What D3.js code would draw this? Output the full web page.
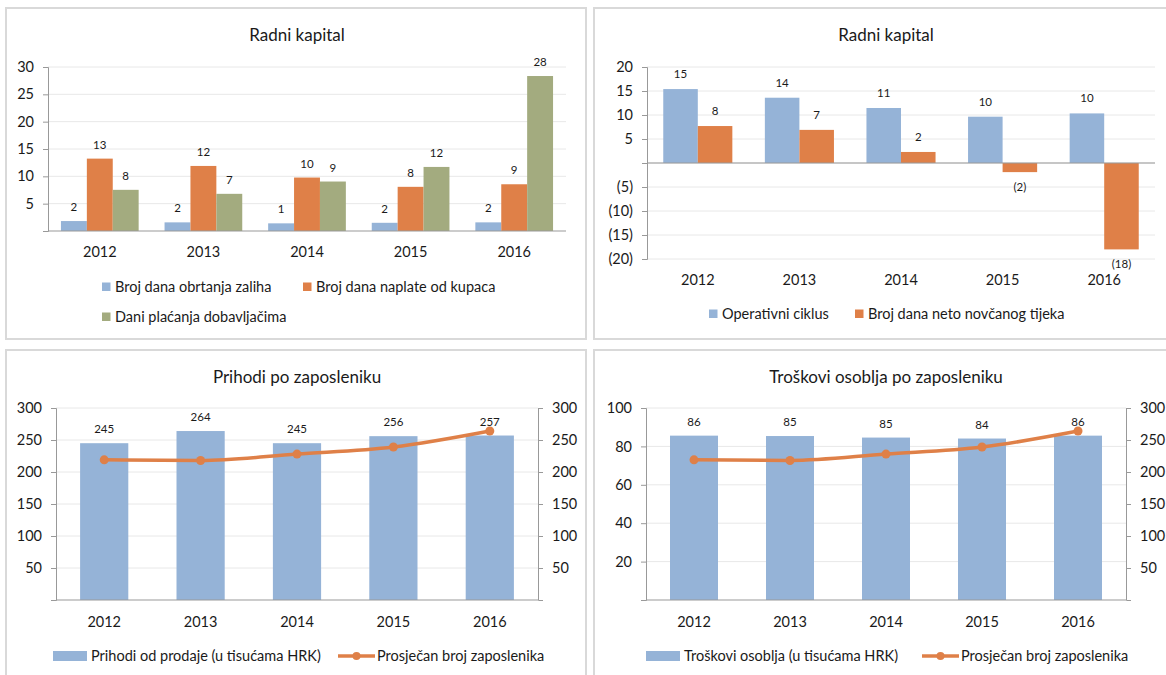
<!DOCTYPE html>
<html><head><meta charset="utf-8">
<script src="https://cdnjs.cloudflare.com/ajax/libs/d3/7.8.5/d3.min.js"></script>
<style>
body{margin:0;background:#fff;}
svg text{font-family:Lato,"Noto Sans",sans-serif;fill:#1a1a1a;}
</style></head><body>
<svg id="c" width="1166" height="675"></svg>
<script>
// ---- data ----
const years = ["2012","2013","2014","2015","2016"];
// Panel 1: Radni kapital
const p1Series = ["Broj dana obrtanja zaliha","Broj dana naplate od kupaca","Dani plaćanja dobavljačima"];
const zalihe = [1.82, 1.58, 1.40, 1.5, 1.58];
const kupci = [13.24, 11.9, 9.78, 8.08, 8.55];
const dobavljaci = [7.53, 6.8, 9.05, 11.72, 28.35];
const p1Ticks = [5,10,15,20,25,30];
// Panel 2: Radni kapital
const p2Series = ["Operativni ciklus","Broj dana neto novčanog tijeka"];
const operativni = [15.4, 13.6, 11.46, 9.65, 10.33];
const netoTijek = [7.7, 6.9, 2.3, -1.9, -18.0];
const p2Ticks = [-20,-15,-10,-5,0,5,10,15,20];
// Panel 3: Prihodi po zaposleniku
const p3Series = ["Prihodi od prodaje (u tisućama HRK)","Prosječan broj zaposlenika"];
const prihodi = [245, 264, 245, 256, 257];
const zaposlenici = [219, 218, 228, 239, 264];
const p3Ticks = [50,100,150,200,250,300];
// Panel 4: Troškovi osoblja po zaposleniku
const p4Series = ["Troškovi osoblja (u tisućama HRK)","Prosječan broj zaposlenika"];
const troskovi = [85.6, 85.4, 84.6, 84.1, 85.6];
const p4TicksL = [20,40,60,80,100];
const p4TicksR = [50,100,150,200,250,300];

const BLUE="#95b3d7", ORANGE="#df8048", GREEN="#a3ab7f", AXIS="#999999", GRID="#e8e8e8";
const svg = d3.select("#c");
const fmtInt = v => { const r = Math.round(Math.abs(v)); return v < 0 ? "(" + r + ")" : String(r); };
const fmtTick = v => v === 0 ? "" : (v < 0 ? "(" + Math.abs(v) + ")" : String(v));
const FS = 14.5;

// panel borders
[[6,8,580,331],[594,8,600,331],[6,350,580,340],[594,350,600,340]].forEach(r=>{
  svg.append("rect").attr("x",r[0]).attr("y",r[1]).attr("width",r[2]).attr("height",r[3])
    .attr("fill","none").attr("stroke","#d9d9d9").attr("stroke-width",2);
});

function title(x,y,t){ svg.append("text").attr("x",x).attr("y",y).attr("text-anchor","middle").attr("font-size",17).text(t); }

function yAxisLeft(g, y, ticks, x0, x1, fmt){
  g.selectAll(null).data(ticks).join("line").attr("x1",x0).attr("x2",x1)
    .attr("y1",d=>y(d)).attr("y2",d=>y(d)).attr("stroke",GRID).attr("stroke-width",1);
  const ax = g.append("g").attr("transform",`translate(${x0},0)`)
    .call(d3.axisLeft(y).tickValues(ticks).tickSize(5).tickPadding(9).tickFormat(fmt));
  ax.select(".domain").attr("stroke",AXIS);
  ax.selectAll(".tick line").attr("stroke",AXIS);
  ax.selectAll("text").attr("font-size",FS).attr("font-family","Lato").attr("fill","#1a1a1a");
  return ax;
}
function yAxisRight(g, y, ticks, x, fmt){
  const ax = g.append("g").attr("transform",`translate(${x},0)`)
    .call(d3.axisRight(y).tickValues(ticks).tickSize(5).tickPadding(9).tickFormat(fmt));
  ax.select(".domain").attr("stroke",AXIS);
  ax.selectAll(".tick line").attr("stroke",AXIS);
  ax.selectAll("text").attr("font-size",FS).attr("font-family","Lato").attr("fill","#1a1a1a");
}
function yearLabels(g, x, yPos){
  g.selectAll(null).data(years).join("text").attr("x",d=>x(d)+x.bandwidth()/2).attr("y",yPos)
    .attr("text-anchor","middle").attr("font-size",FS).text(d=>d);
}
function legSquare(x,y,color,t){
  svg.append("rect").attr("x",x).attr("y",y-4.5).attr("width",8.5).attr("height",8.5).attr("fill",color);
  svg.append("text").attr("x",x+13).attr("y",y+5).attr("font-size",FS).text(t);
}
function legRect(x,y,color,t){
  svg.append("rect").attr("x",x).attr("y",y-5).attr("width",34).attr("height",10).attr("fill",color);
  svg.append("text").attr("x",x+38).attr("y",y+5).attr("font-size",FS).text(t);
}
function legLine(x,y,t){
  svg.append("line").attr("x1",x).attr("x2",x+37).attr("y1",y).attr("y2",y).attr("stroke",ORANGE).attr("stroke-width",3.5);
  svg.append("circle").attr("cx",x+18.5).attr("cy",y).attr("r",4).attr("fill",ORANGE);
  svg.append("text").attr("x",x+39).attr("y",y+5).attr("font-size",FS).text(t);
}

// ---------- Panel 1 ----------
{
  const g = svg.append("g");
  title(297,41,"Radni kapital");
  const x0 = d3.scaleBand().domain(years).range([48,566]).paddingInner(0.25).paddingOuter(0.125);
  const x1 = d3.scaleBand().domain([0,1,2]).range([0,x0.bandwidth()]);
  const y = d3.scaleLinear().domain([0,30]).range([231,67]);
  yAxisLeft(g,y,p1Ticks,48,566,d3.format("d"));
  const rows = years.map((yr,i)=>({yr, vals:[zalihe[i],kupci[i],dobavljaci[i]]}));
  const cols = [BLUE,ORANGE,GREEN];
  const grp = g.selectAll(null).data(rows).join("g").attr("transform",d=>`translate(${x0(d.yr)},0)`);
  grp.selectAll("rect").data(d=>d.vals).join("rect")
    .attr("x",(d,j)=>x1(j)).attr("width",x1.bandwidth()).attr("y",d=>y(d)).attr("height",d=>y(0)-y(d))
    .attr("fill",(d,j)=>cols[j]);
  grp.selectAll("text").data(d=>d.vals).join("text")
    .attr("x",(d,j)=>x1(j)+x1.bandwidth()/2).attr("y",d=>y(d)-10).attr("text-anchor","middle")
    .attr("font-size",11.5).text(fmtInt);
  g.append("line").attr("x1",48).attr("x2",566).attr("y1",y(0)).attr("y2",y(0)).attr("stroke",AXIS);
  yearLabels(g,x0,257);
  legSquare(102,287,BLUE,p1Series[0]);
  legSquare(303,287,ORANGE,p1Series[1]);
  legSquare(102,317,GREEN,p1Series[2]);
}

// ---------- Panel 2 ----------
{
  const g = svg.append("g");
  title(886,41,"Radni kapital");
  const x0 = d3.scaleBand().domain(years).range([647,1155]).paddingInner(0.32).paddingOuter(0.16);
  const x1 = d3.scaleBand().domain([0,1]).range([0,x0.bandwidth()]);
  const y = d3.scaleLinear().domain([-20,20]).range([259,67]);
  yAxisLeft(g,y,p2Ticks,647,1155,fmtTick);
  const rows = years.map((yr,i)=>({yr, vals:[operativni[i],netoTijek[i]]}));
  const cols = [BLUE,ORANGE];
  const grp = g.selectAll(null).data(rows).join("g").attr("transform",d=>`translate(${x0(d.yr)},0)`);
  grp.selectAll("rect").data(d=>d.vals).join("rect")
    .attr("x",(d,j)=>x1(j)).attr("width",x1.bandwidth()).attr("y",d=>y(Math.max(0,d))).attr("height",d=>Math.abs(y(d)-y(0)))
    .attr("fill",(d,j)=>cols[j]);
  grp.selectAll("text").data(d=>d.vals).join("text")
    .attr("x",(d,j)=>x1(j)+x1.bandwidth()/2).attr("y",d=>d>=0 ? y(d)-11 : y(d)+19).attr("text-anchor","middle")
    .attr("font-size",11.5).text(fmtInt);
  g.append("line").attr("x1",647).attr("x2",1155).attr("y1",y(0)).attr("y2",y(0)).attr("stroke",AXIS);
  yearLabels(g,x0,285);
  legSquare(709,314,BLUE,p2Series[0]);
  legSquare(855,314,ORANGE,p2Series[1]);
}

// ---------- bar + line panels ----------
function barLine(opts){
  const g = svg.append("g");
  title(opts.cx,383,opts.title);
  const x = d3.scaleBand().domain(years).range([opts.x0,opts.x1]).paddingInner(0.5).paddingOuter(0.25);
  const y = d3.scaleLinear().domain([0,opts.max]).range([600,408]);
  const y2 = d3.scaleLinear().domain([0,300]).range([600,408]);
  yAxisLeft(g,y,opts.ticksL,opts.x0,opts.x1,d3.format("d"));
  yAxisRight(g,y2,opts.ticksR,opts.x1,d3.format("d"));
  g.selectAll(null).data(opts.bars).join("rect").attr("x",(d,i)=>x(years[i])).attr("width",x.bandwidth())
    .attr("y",d=>y(d)).attr("height",d=>y(0)-y(d)).attr("fill",BLUE);
  g.append("line").attr("x1",opts.x0).attr("x2",opts.x1).attr("y1",600).attr("y2",600).attr("stroke",AXIS);
  const cx = i => x(years[i])+x.bandwidth()/2;
  const line = d3.line().x((d,i)=>cx(i)).y(d=>y2(d)).curve(d3.curveMonotoneX);
  g.append("path").datum(zaposlenici).attr("d",line).attr("fill","none").attr("stroke",ORANGE).attr("stroke-width",3.5);
  g.selectAll(null).data(zaposlenici).join("circle").attr("cx",(d,i)=>cx(i)).attr("cy",d=>y2(d)).attr("r",4.5).attr("fill",ORANGE);
  g.selectAll(null).data(opts.bars).join("text").attr("x",(d,i)=>cx(i)).attr("y",d=>y(d)-10)
    .attr("text-anchor","middle").attr("font-size",11.5).text(fmtInt);
  yearLabels(g,x,627);
  legRect(opts.legX,656,BLUE,opts.series[0]);
  legLine(opts.lineX,656,opts.series[1]);
}
barLine({title:"Prihodi po zaposleniku",cx:297,x0:56,x1:538,max:300,ticksL:p3Ticks,ticksR:p3Ticks,bars:prihodi,series:p3Series,legX:53,lineX:338});
barLine({title:"Troškovi osoblja po zaposleniku",cx:886,x0:646,x1:1126,max:100,ticksL:p4TicksL,ticksR:p4TicksR,bars:troskovi,series:p4Series,legX:646,lineX:922});
</script></body></html>
